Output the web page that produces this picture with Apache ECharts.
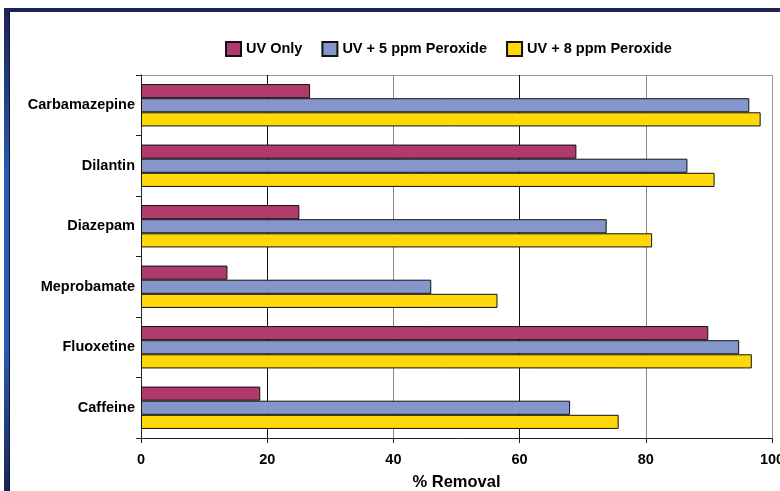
<!DOCTYPE html>
<html>
<head>
<meta charset="utf-8">
<script src="https://cdn.jsdelivr.net/npm/echarts@6/dist/echarts.min.js"></script>
<style>
html,body{margin:0;padding:0;background:#fff;overflow:hidden;}
#chart{width:780px;height:491px;}
</style>
</head>
<body>
<div id="chart"></div>
<script>
// Categories, bottom to top as drawn by the category axis
const categories = ['Caffeine', 'Fluoxetine', 'Meprobamate', 'Diazepam', 'Dilantin', 'Carbamazepine'];
const seriesNames = ['UV Only', 'UV + 5 ppm Peroxide', 'UV + 8 ppm Peroxide'];
const uvOnly   = [18.9, 89.9, 13.7, 25.1, 69.0, 26.8];
const uv5ppm   = [68.0, 94.8, 46.0, 73.8, 86.6, 96.4];
const uv8ppm   = [75.7, 96.8, 56.5, 81.0, 90.9, 98.2];
const xTicks = [0, 20, 40, 60, 80, 100];
const xAxisName = '% Removal';

const colors = {'UV Only': '#B03A6C', 'UV + 5 ppm Peroxide': '#8596CA', 'UV + 8 ppm Peroxide': '#FFD80A'};
const dataByName = {'UV Only': uvOnly, 'UV + 5 ppm Peroxide': uv5ppm, 'UV + 8 ppm Peroxide': uv8ppm};

const chart = echarts.init(document.getElementById('chart'), null, {renderer: 'canvas'});
const font = 'Liberation Sans, Arial, sans-serif';

chart.setOption({
  backgroundColor: '#fff',
  animation: false,
  textStyle: {fontFamily: font},
  graphic: [
    {type: 'rect', shape: {x: 4, y: 8, width: 776, height: 4}, style: {fill: '#1B2452'}},
    {type: 'rect', shape: {x: 4, y: 8, width: 6, height: 483},
      style: {fill: new echarts.graphic.LinearGradient(0, 0, 0, 1, [
        {offset: 0, color: '#1B2452'}, {offset: 0.35, color: '#2A5CB4'},
        {offset: 0.7, color: '#2A5CB4'}, {offset: 1, color: '#1B2452'}])}},
    {type: 'rect', shape: {x: 9, y: 12, width: 1, height: 479}, style: {fill: '#0E1535'}},
    {type: 'rect', shape: {x: 141.5, y: 75.5, width: 631, height: 363}, style: {fill: 'none', stroke: '#999', lineWidth: 1}, z: 0}
  ],
  legend: {
    data: seriesNames,
    top: 36,
    left: 220,
    itemWidth: 15,
    itemHeight: 14,
    itemGap: 19,
    textStyle: {fontFamily: font, fontSize: 14.5, fontWeight: 'bold', color: '#000'},
    icon: 'rect'
  },
  grid: {left: 141, right: 8, top: 75, bottom: 53, containLabel: false, outerBoundsMode: 'none'},
  xAxis: {
    type: 'value',
    min: 0, max: 100, interval: 20,
    name: xAxisName,
    nameLocation: 'middle',
    nameGap: 36,
    nameTextStyle: {fontFamily: font, fontSize: 16.5, fontWeight: 'bold', color: '#000'},
    axisLine: {show: true, lineStyle: {color: '#222', width: 1}},
    axisTick: {show: true, length: 5, lineStyle: {color: '#222'}},
    axisLabel: {fontFamily: font, fontSize: 14.5, fontWeight: 'bold', color: '#000', margin: 14,
      formatter: v => xTicks.includes(v) ? String(v) : ''},
    splitLine: {show: true, lineStyle: {color: ['#222', '#111', '#888', '#111', '#888', '#999'], width: 1}}
  },
  yAxis: {
    type: 'category',
    data: categories,
    axisLine: {show: true, lineStyle: {color: '#222', width: 1}},
    axisTick: {show: true, length: 5, inside: false, lineStyle: {color: '#222'}},
    axisLabel: {fontFamily: font, fontSize: 14.5, fontWeight: 'bold', color: '#000', margin: 6},
    splitLine: {show: false}
  },
  series: seriesNames.map(name => ({
    name: name,
    type: 'bar',
    data: dataByName[name],
    barGap: '0%',
    barCategoryGap: '30%',
    itemStyle: {color: colors[name], borderColor: '#111', borderWidth: 1}
  }))
});
</script>
</body>
</html>
